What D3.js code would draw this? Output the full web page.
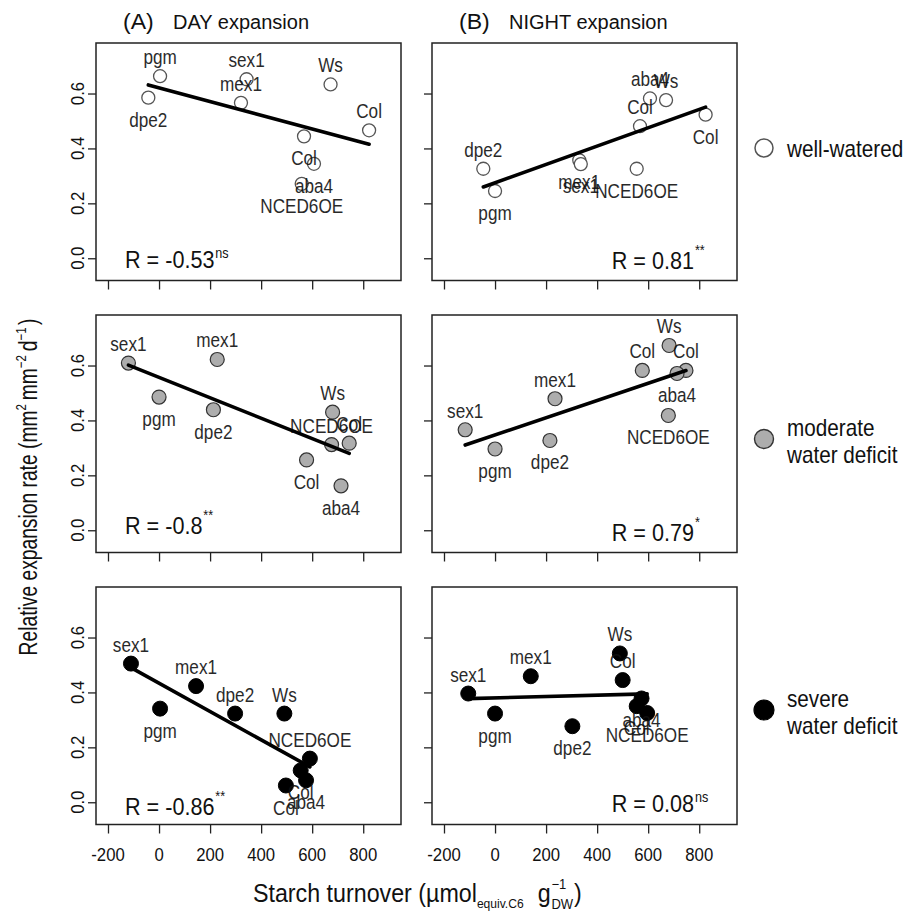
<!DOCTYPE html>
<html>
<head>
<meta charset="utf-8">
<script src="https://cdn.jsdelivr.net/npm/d3@7"></script>
<style>
  body { margin: 0; background: #fff; }
  svg text { font-family: "Liberation Sans", Arial, sans-serif; fill: #111; }
</style>
</head>
<body>
<div id="chart"></div>
<script>
// genotypes, starch turnover (x) and relative expansion rate (y)
// (A) DAY, well-watered
var dayWellGen = ["pgm", "dpe2", "sex1", "mex1", "Ws", "Col", "Col", "aba4", "NCED6OE"];
var dayWellX = [4, -42, 343, 321, 672, 823, 568, 607, 559];
var dayWellY = [0.663, 0.585, 0.652, 0.566, 0.633, 0.466, 0.444, 0.344, 0.271];
var dayWellPos = ["a", "b", "a", "a", "a", "a", "b", "b", "b"];
// (A) DAY, moderate deficit
var dayModGen = ["sex1", "pgm", "mex1", "dpe2", "Ws", "NCED6OE", "Col", "Col", "aba4"];
var dayModX = [-120, 0, 228, 213, 680, 676, 745, 578, 713];
var dayModY = [0.609, 0.485, 0.622, 0.439, 0.430, 0.312, 0.317, 0.256, 0.162];
var dayModPos = ["a", "b", "a", "b", "a", "a", "a", "b", "b"];
// (A) DAY, severe deficit
var dayDryGen = ["sex1", "mex1", "pgm", "dpe2", "Ws", "NCED6OE", "Col", "Col", "aba4"];
var dayDryX = [-110, 145, 4, 298, 491, 591, 555, 497, 576];
var dayDryY = [0.505, 0.423, 0.341, 0.323, 0.323, 0.159, 0.116, 0.061, 0.080];
var dayDryPos = ["a", "a", "b", "a", "a", "a", "b", "b", "b"];
// (B) NIGHT, well-watered
var nightWellGen = ["dpe2", "pgm", "mex1", "sex1", "NCED6OE", "Col", "aba4", "Ws", "Col"];
var nightWellX = [-46, 0, 330, 336, 555, 568, 607, 670, 825];
var nightWellY = [0.326, 0.245, 0.357, 0.343, 0.326, 0.481, 0.582, 0.576, 0.523];
var nightWellPos = ["a", "b", "b", "b", "b", "a", "a", "a", "b"];
// (B) NIGHT, moderate deficit
var nightModGen = ["sex1", "pgm", "mex1", "dpe2", "Col", "Ws", "Col", "aba4", "NCED6OE"];
var nightModX = [-117, 0, 235, 215, 577, 682, 748, 713, 679];
var nightModY = [0.366, 0.296, 0.479, 0.327, 0.582, 0.673, 0.582, 0.571, 0.418];
var nightModPos = ["a", "b", "a", "b", "a", "a", "a", "b", "b"];
// (B) NIGHT, severe deficit
var nightDryGen = ["sex1", "mex1", "pgm", "dpe2", "Ws", "Col", "aba4", "Col", "NCED6OE"];
var nightDryX = [-105, 140, 0, 303, 489, 500, 574, 555, 596];
var nightDryY = [0.396, 0.459, 0.323, 0.277, 0.542, 0.445, 0.378, 0.350, 0.325];
var nightDryPos = ["a", "a", "b", "b", "a", "a", "b", "b", "b"];

// correlation coefficients and significance
var rValues = [["-0.53", "0.81"], ["-0.8", "0.79"], ["-0.86", "0.08"]];
var rSig = [["ns", "**"], ["**", "*"], ["**", "ns"]];

var columnTitles = [["(A)", "DAY expansion"], ["(B)", "NIGHT expansion"]];
var legendText = [["well-watered"], ["moderate", "water deficit"], ["severe", "water deficit"]];
var xTicks = [-200, 0, 200, 400, 600, 800];
var yTicks = [0, 0.2, 0.4, 0.6];

var panels = [
  [[dayWellGen, dayWellX, dayWellY, dayWellPos], [nightWellGen, nightWellX, nightWellY, nightWellPos]],
  [[dayModGen, dayModX, dayModY, dayModPos], [nightModGen, nightModX, nightModY, nightModPos]],
  [[dayDryGen, dayDryX, dayDryY, dayDryPos], [nightDryGen, nightDryX, nightDryY, nightDryPos]]
];

// layout
var colLeft = [96, 432], panelW = 305;
var rowTop = [43, 315, 587], panelH = 237.5;
var markStyle = [
  { fill: "#fff", stroke: "#555", r: 6.5, sw: 1.3 },
  { fill: "#adadad", stroke: "#333", r: 7, sw: 1.2 },
  { fill: "#000", stroke: "#000", r: 7.5, sw: 1 }
];
var rBaseOffset = [[13, 19, 10], [12, 12, 13]];
var legendOffset = [105, 124, 123];

var svg = d3.select("#chart").append("svg")
  .attr("width", 907).attr("height", 912);

// text helper: pieces laid out in a row, with horizontal squeeze like the original
function rich(parent, x, y, parts, opt) {
  opt = opt || {};
  var sx = opt.sx || 1, rot = opt.rot || 0, anchor = opt.anchor || "start";
  var g = parent.append("g")
    .attr("transform", "translate(" + x + "," + y + ") rotate(" + rot + ") scale(" + sx + ",1)");
  var cx = 0, prev = 0, anchorW = 0, nodes = [];
  parts.forEach(function(p) {
    var x0 = p.stack ? prev : cx + (p.gap || 0);
    var t = g.append("text").attr("x", x0).attr("y", p.dy || 0)
      .attr("font-size", p.fs).text(p.t);
    var w = t.node().getComputedTextLength();
    prev = x0;
    cx = Math.max(cx, x0 + w);
    if (!p.free) anchorW = cx;
    nodes.push(t);
  });
  var off = anchor === "middle" ? -cx / 2 : anchor === "end" ? -anchorW : 0;
  nodes.forEach(function(t) { t.attr("x", +t.attr("x") + off); });
  return g;
}

function fit(xs, ys) {
  var mx = d3.mean(xs), my = d3.mean(ys);
  var sxy = d3.sum(xs, function(v, i) { return (v - mx) * (ys[i] - my); });
  var sxx = d3.sum(xs, function(v) { return (v - mx) * (v - mx); });
  var b = sxy / sxx;
  return { a: my - b * mx, b: b };
}

panels.forEach(function(row, ri) {
  row.forEach(function(p, ci) {
    var gen = p[0], xs = p[1], ys = p[2], pos = p[3];
    var left = colLeft[ci], top = rowTop[ri];
    var x = d3.scaleLinear().domain([-247, 948]).range([left, left + panelW]);
    var y = d3.scaleLinear().domain([-0.081, 0.784]).range([top + panelH, top]);
    var g = svg.append("g");

    // ticks
    g.append("g").attr("transform", "translate(0," + (top + panelH) + ")")
      .call(d3.axisBottom(x).tickValues(xTicks).tickSize(9).tickFormat(""))
      .call(function(a) { a.select(".domain").remove(); a.selectAll("line").attr("stroke", "#222").attr("stroke-width", 1.3); });
    g.append("g").attr("transform", "translate(" + left + ",0)")
      .call(d3.axisLeft(y).tickValues(yTicks).tickSize(8).tickFormat(""))
      .call(function(a) { a.select(".domain").remove(); a.selectAll("line").attr("stroke", "#222").attr("stroke-width", 1.3); });

    if (ri === 2) {
      xTicks.forEach(function(t) {
        rich(g, x(t), top + panelH + 36, [{ t: String(t), fs: 19 }], { sx: 0.88, anchor: "middle" });
      });
    }
    if (ci === 0) {
      yTicks.forEach(function(t) {
        rich(g, left - 12, y(t), [{ t: t.toFixed(1), fs: 19 }], { sx: 0.88, anchor: "middle", rot: -90 });
      });
    }

    // frame
    g.append("rect").attr("x", left).attr("y", top).attr("width", panelW).attr("height", panelH)
      .attr("fill", "none").attr("stroke", "#222").attr("stroke-width", 1.5);

    // points
    var st = markStyle[ri];
    g.selectAll("circle.pt").data(xs).enter().append("circle")
      .attr("class", "pt")
      .attr("cx", function(d) { return x(d); })
      .attr("cy", function(d, i) { return y(ys[i]); })
      .attr("r", st.r).attr("fill", st.fill).attr("stroke", st.stroke).attr("stroke-width", st.sw);

    // genotype labels
    gen.forEach(function(name, i) {
      var ly = y(ys[i]) + (pos[i] === "a" ? -12 : 29);
      rich(g, x(xs[i]), ly, [{ t: name, fs: 19.5 }], { sx: 0.88, anchor: "middle" }).attr("opacity", 0.9);
    });

    // regression line
    var f = fit(xs, ys), x0 = d3.min(xs), x1 = d3.max(xs);
    g.append("line")
      .attr("x1", x(x0)).attr("y1", y(f.a + f.b * x0))
      .attr("x2", x(x1)).attr("y2", y(f.a + f.b * x1))
      .attr("stroke", "#000").attr("stroke-width", 3.6).attr("stroke-linecap", "round");

    // R annotation
    var rb = top + panelH - rBaseOffset[ci][ri];
    var sig = rSig[ri][ci];
    var parts = [
      { t: "R = " + rValues[ri][ci], fs: 24 },
      { t: sig, fs: 14, dy: sig === "ns" ? -10 : -14, gap: 1, free: true }
    ];
    if (ci === 0) rich(g, left + 29, rb, parts, { sx: 0.9 });
    else rich(g, left + 262, rb, parts, { sx: 0.9, anchor: "end" });
  });

  // legend
  var ly = rowTop[ri] + legendOffset[ri];
  var st = markStyle[ri];
  svg.append("circle").attr("cx", 764).attr("cy", ly).attr("r", st.r + 2.5)
    .attr("fill", st.fill).attr("stroke", st.stroke).attr("stroke-width", st.sw + 0.2);
  var lines = legendText[ri];
  lines.forEach(function(t, k) {
    var by = lines.length === 1 ? ly + 9 : ly - 3 + k * 26.5;
    rich(svg, 787, by, [{ t: t, fs: 23 }], { sx: 0.9 });
  });
});

// column titles
columnTitles.forEach(function(t, ci) {
  var left = colLeft[ci];
  rich(svg, left + 27, 29, [{ t: t[0], fs: 22 }], { sx: 1.05 });
  rich(svg, left + 77, 29, [{ t: t[1], fs: 20 }], {});
});

// axis titles
rich(svg, 253, 902, [
  { t: "Starch turnover (\u00b5mol", fs: 25 },
  { t: "equiv.C6", fs: 13, dy: 6 },
  { t: "g", fs: 25, gap: 15 },
  { t: "\u22121", fs: 14, dy: -13, gap: 1 },
  { t: "DW", fs: 14, dy: 7, stack: true },
  { t: ")", fs: 25, gap: 1 }
], { sx: 0.93 });

rich(svg, 37, 487, [
  { t: "Relative expansion rate (mm", fs: 25 },
  { t: "2", fs: 15, dy: -11, gap: 0 },
  { t: "mm", fs: 25, gap: 5 },
  { t: "\u22122", fs: 15, dy: -11, gap: 0 },
  { t: "d", fs: 25, gap: 5 },
  { t: "\u22121", fs: 15, dy: -11, gap: 0 },
  { t: ")", fs: 25, gap: 3 }
], { sx: 0.77, anchor: "middle", rot: -90 });
</script>
</body>
</html>
